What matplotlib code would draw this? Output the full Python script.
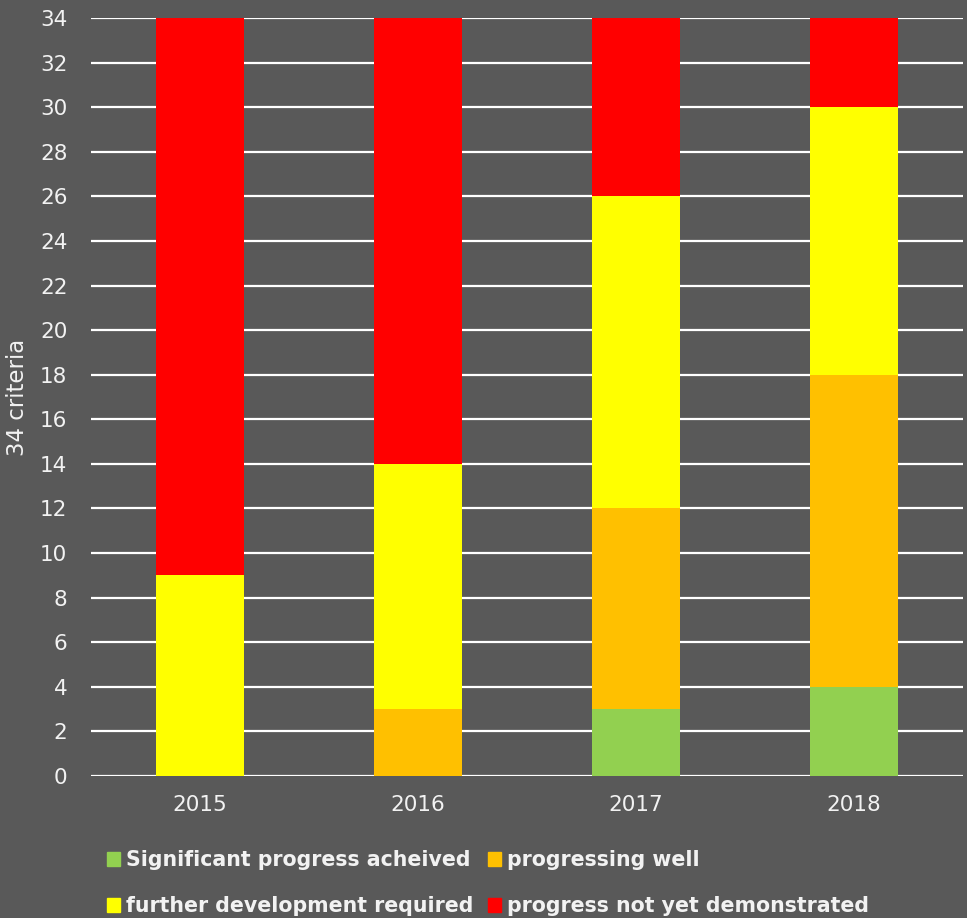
import matplotlib
matplotlib.use("Agg")
import matplotlib.pyplot as plt
from matplotlib.patches import Patch

years = ["2015", "2016", "2017", "2018"]
significant = [0, 0, 3, 4]
progressing = [0, 3, 9, 14]
further = [9, 11, 14, 12]
not_yet = [25, 20, 8, 4]
series_names = ["Significant progress acheived", "progressing well",
                "further development required", "progress not yet demonstrated"]
colors = ["#92D050", "#FFC000", "#FFFF00", "#FF0000"]

bg = "#595959"
fg = "#F2F2F2"
fig = plt.figure(figsize=(9.67, 9.18), dpi=100, facecolor=bg)
ax = fig.add_axes([91/967, 1-776/918, 872/967, 758/918], facecolor=bg)

x = list(range(len(years)))
bottom = [0]*len(years)
for vals, c in zip([significant, progressing, further, not_yet], colors):
    ax.bar(x, vals, bottom=bottom, width=0.4, color=c, zorder=3, linewidth=0)
    bottom = [b+v for b, v in zip(bottom, vals)]

ax.set_xlim(-0.5, 3.5)
ax.set_ylim(0, 34)
ax.set_yticks(range(0, 35, 2))
ax.set_xticks(x)
ax.set_xticklabels(years)
ax.yaxis.grid(True, color="white", linewidth=1.6, zorder=1)
ax.set_axisbelow(True)
for s in ax.spines.values():
    s.set_visible(False)
ax.tick_params(axis="both", length=0, colors=fg, labelsize=15.5)
ax.tick_params(axis="y", pad=17)
ax.tick_params(axis="x", pad=14)
ax.set_ylabel("34 criteria", color=fg, fontsize=16.5, labelpad=8)

handles = [Patch(color=c) for c in colors]
order = [0, 2, 1, 3]
leg = fig.legend([handles[i] for i in order], [series_names[i] for i in order],
                 ncol=2, loc="upper left", bbox_to_anchor=(88/967, 1-832/918),
                 frameon=False, handlelength=0.65, handleheight=0.65,
                 handletextpad=0.3, columnspacing=0.7, labelspacing=1.25,
                 prop={"weight": "bold", "size": 14.8})
for t in leg.get_texts():
    t.set_color(fg)

fig.savefig("out.png", dpi=100, facecolor=bg)
